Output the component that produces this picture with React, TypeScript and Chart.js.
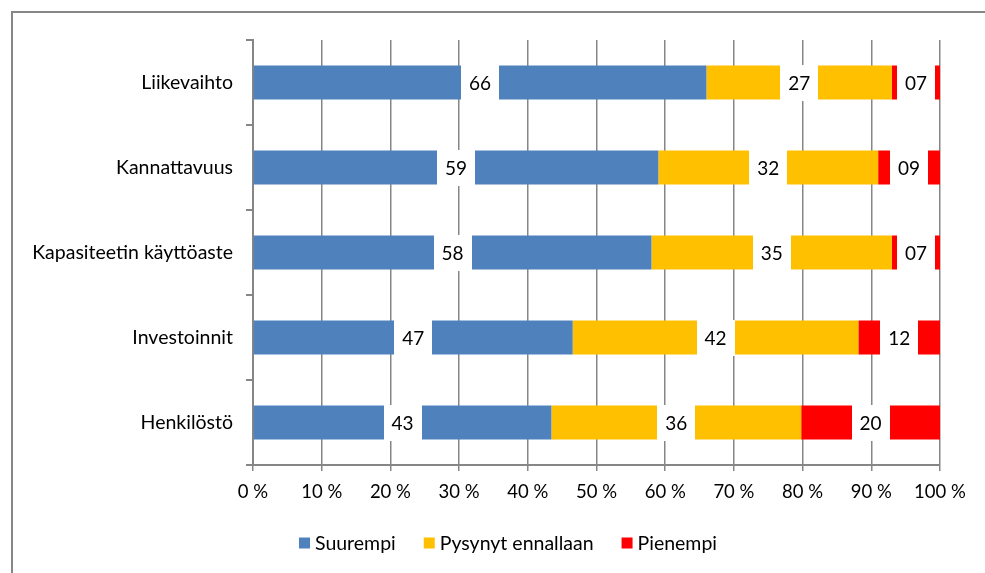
import React, { useEffect, useRef } from "react";
import { Chart, registerables } from "chart.js";

Chart.register(...registerables);

// Survey categories (top to bottom)
const categories = [
  "Liikevaihto",
  "Kannattavuus",
  "Kapasiteetin käyttöaste",
  "Investoinnit",
  "Henkilöstö",
];

// Answer shares per category, as reported
const suurempi = [66, 59, 58, 47, 43];
const pysynyt = [27, 32, 35, 42, 36];
const pienempi = [7, 9, 7, 12, 20];

const seriesNames = ["Suurempi", "Pysynyt ennallaan", "Pienempi"];
const seriesColors = ["#4F81BD", "#FFC000", "#FF0000"];

const xTicks = [0, 10, 20, 30, 40, 50, 60, 70, 80, 90, 100];

const FONT = "Lato, 'Open Sans', sans-serif";
const GRID = "#868686";

// Each row is scaled to 100 % so the stack fills the axis
const rawSeries = [suurempi, pysynyt, pienempi];
const totals = categories.map((_, i) => rawSeries.reduce((s, arr) => s + arr[i], 0));
const percentSeries = rawSeries.map((arr) => arr.map((v, i) => (v / totals[i]) * 100));

const pad2 = (v: number) => (v < 10 ? "0" + v : String(v));

// White label boxes centred on each segment
const valueLabels = {
  id: "valueLabels",
  afterDatasetsDraw(chart: any) {
    const ctx = chart.ctx;
    ctx.save();
    ctx.font = `19px ${FONT}`;
    ctx.textAlign = "center";
    ctx.textBaseline = "middle";
    chart.data.datasets.forEach((ds: any, di: number) => {
      const meta = chart.getDatasetMeta(di);
      meta.data.forEach((el: any, i: number) => {
        const cx = (el.x + el.base) / 2;
        const cy = el.y;
        const h = el.height;
        const w = 38;
        ctx.fillStyle = "#FFFFFF";
        ctx.fillRect(Math.round(cx - w / 2), Math.round(cy - h / 2) - 1, w, Math.round(h) + 2);
        ctx.fillStyle = "#000000";
        ctx.fillText(pad2(rawSeries[di][i]), cx, cy + 1);
      });
    });
    ctx.restore();
  },
};

// Outer frame and legend row
const frameAndLegend = {
  id: "frameAndLegend",
  beforeDraw(chart: any) {
    const ctx = chart.ctx;
    ctx.save();
    ctx.fillStyle = "#FFFFFF";
    ctx.fillRect(0, 0, chart.width, chart.height);
    ctx.strokeStyle = GRID;
    ctx.lineWidth = 2;
    ctx.strokeRect(12, 12, chart.width + 50, chart.height + 50);
    ctx.restore();
  },
  afterDraw(chart: any) {
    const ctx = chart.ctx;
    ctx.save();
    ctx.font = `19.5px ${FONT}`;
    ctx.textBaseline = "middle";
    ctx.textAlign = "left";
    const box = 11;
    const gapText = 5;
    const gapItem = 28;
    const widths = seriesNames.map((n) => box + gapText + ctx.measureText(n).width);
    const total = widths.reduce((a, b) => a + b, 0) + gapItem * (widths.length - 1);
    let x = 508 - total / 2;
    const y = 543;
    seriesNames.forEach((n, i) => {
      ctx.fillStyle = seriesColors[i];
      ctx.fillRect(x, y - box / 2, box, box);
      ctx.fillStyle = "#000000";
      ctx.fillText(n, x + box + gapText, y + 1);
      x += widths[i] + gapItem;
    });
    ctx.restore();
  },
};

export default function App() {
  const canvasRef = useRef<HTMLCanvasElement | null>(null);

  useEffect(() => {
    if (!canvasRef.current) return;
    const chart = new Chart(canvasRef.current, {
      type: "bar",
      data: {
        labels: categories,
        datasets: seriesNames.map((name, i) => ({
          label: name,
          data: percentSeries[i],
          backgroundColor: seriesColors[i],
          borderWidth: 0,
          barPercentage: 0.4,
          categoryPercentage: 1,
        })),
      },
      options: {
        indexAxis: "y",
        animation: false,
        responsive: false,
        layout: { padding: { left: 0, right: 45, top: 40, bottom: 68 } },
        plugins: {
          legend: { display: false },
          tooltip: { enabled: false },
        },
        scales: {
          x: {
            stacked: true,
            min: 0,
            max: 100,
            afterBuildTicks(scale: any) {
              scale.ticks = xTicks.map((v) => ({ value: v }));
            },
            afterFit(scale: any) {
              scale.height = 40;
            },
            ticks: {
              color: "#000000",
              font: { family: FONT, size: 18.5 },
              padding: 10,
              maxRotation: 0,
              callback: (v: any) => `${v} %`,
            },
            grid: {
              color: GRID,
              lineWidth: 1.5,
              tickLength: 6,
              drawOnChartArea: true,
            },
            border: { color: GRID, width: 2 },
          },
          y: {
            stacked: true,
            afterFit(scale: any) {
              scale.width = 253;
            },
            ticks: {
              color: "#000000",
              font: { family: FONT, size: 19.5 },
              padding: 13,
            },
            grid: {
              color: GRID,
              lineWidth: 2,
              tickLength: 7,
              drawOnChartArea: false,
              offset: true,
            },
            border: { color: GRID, width: 2 },
          },
        },
      },
      plugins: [valueLabels, frameAndLegend],
    } as any);
    return () => chart.destroy();
  }, []);

  return (
    <div style={{ position: "absolute", left: 0, top: 0, width: 985, height: 573 }}>
      <canvas ref={canvasRef} width={985} height={573} style={{ display: "block" }} />
    </div>
  );
}
